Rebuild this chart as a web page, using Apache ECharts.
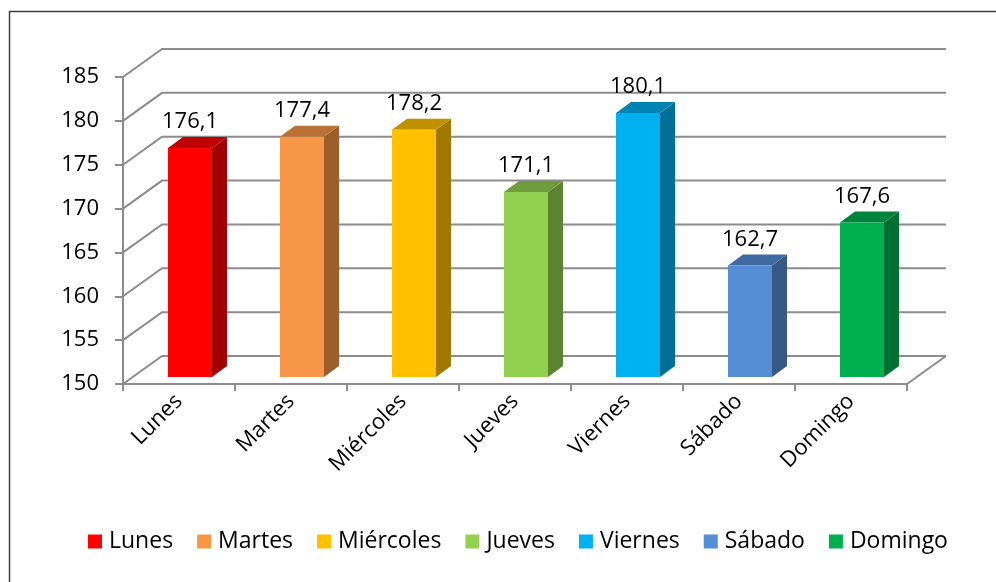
<!DOCTYPE html>
<html>
<head>
<meta charset="utf-8">
<script src="https://cdn.jsdelivr.net/npm/echarts@6/dist/echarts.min.js"></script>
<style>
  html, body { margin: 0; padding: 0; background: #fff; }
  #container { width: 996px; height: 582px; }
</style>
</head>
<body>
<div id="container"></div>
<script>
var dias = ['Lunes', 'Martes', 'Miércoles', 'Jueves', 'Viernes', 'Sábado', 'Domingo'];
var valores = [176.1, 177.4, 178.2, 171.1, 180.1, 162.7, 167.6];
var colores = ['#FF0000', '#F79646', '#FFC000', '#92D050', '#00B0F0', '#558ED5', '#00B050'];
var yTicks = [150, 155, 160, 165, 170, 175, 180, 185];

var FONT = '"Open Sans", "Noto Sans", sans-serif';
var GRIS = '#8c8c8c';
// profundidad de la pared del fondo
var DX = 39, DY = -28;
// cara frontal de la barra y su fondo
var BAR_W = 44, SHIFT_X = 11, SHIFT_Y = -7, DEPTH_X = 15, DEPTH_Y = -11;

var dom = document.getElementById('container');
var myChart = echarts.init(dom);

var fmt = function (v) {
    return v.toFixed(1).replace('.', ',');
};

// oscurecer un color multiplicando sus canales
var oscuro = function (color, f) {
    var c = echarts.color.parse(color);
    return 'rgb(' + Math.round(c[0] * f) + ',' + Math.round(c[1] * f) + ',' + Math.round(c[2] * f) + ')';
};

// paredes: fondo, lateral izquierdo y suelo
var paredes = function (params, api) {
    var cs = params.coordSys;
    var x0 = cs.x, x1 = cs.x + cs.width;
    var kids = [];
    var st = { stroke: GRIS, lineWidth: 2, fill: null };
    for (var i = 0; i < yTicks.length; i++) {
        var y = api.coord([0, yTicks[i]])[1];
        kids.push({ type: 'polyline', shape: { points: [[x0, y], [x0 + DX, y + DY], [x1 + DX, y + DY]] }, style: st });
    }
    var yb = api.coord([0, yTicks[0]])[1];
    kids.push({ type: 'line', shape: { x1: x1, y1: yb, x2: x1 + DX, y2: yb + DY }, style: st });
    return { type: 'group', children: kids };
};

var barra = function (params, api) {
    var c = api.value(0);
    var v = api.value(1);
    var top = api.coord([c, v]);
    var base = api.coord([c, yTicks[0]]);
    var color = api.visual('color');
    var xl = top[0] - BAR_W / 2 + SHIFT_X;
    var xr = xl + BAR_W;
    var yt = top[1] + SHIFT_Y;
    var yb = base[1] + SHIFT_Y;
    return {
        type: 'group',
        children: [
            { type: 'polygon', shape: { points: [[xr, yt], [xr + DEPTH_X, yt + DEPTH_Y], [xr + DEPTH_X, yb + DEPTH_Y], [xr, yb]] },
              style: { fill: oscuro(color, 0.63) } },
            { type: 'polygon', shape: { points: [[xl, yt], [xl + DEPTH_X, yt + DEPTH_Y], [xr + DEPTH_X, yt + DEPTH_Y], [xr, yt]] },
              style: { fill: oscuro(color, 0.75) } },
            { type: 'rect', shape: { x: xl, y: yt, width: BAR_W, height: yb - yt }, style: { fill: color } },
            { type: 'text', x: (xl + xr) / 2, y: yt + DEPTH_Y - 4,
              style: { text: fmt(v), fill: '#000', font: '22px ' + FONT, align: 'center', verticalAlign: 'bottom' } }
        ]
    };
};

var series = [{
    type: 'custom',
    name: '_paredes',
    renderItem: paredes,
    data: [[0, yTicks[0]]],
    silent: true,
    z: 1
}];
for (var i = 0; i < dias.length; i++) {
    series.push({
        type: 'custom',
        name: dias[i],
        renderItem: barra,
        itemStyle: { color: colores[i] },
        data: [[i, valores[i]]],
        z: 5
    });
}

var option = {
    animation: false,
    textStyle: { fontFamily: FONT },
    graphic: [{
        type: 'rect',
        shape: { x: 9.5, y: 11.5, width: 1000, height: 600 },
        style: { fill: null, stroke: '#404040', lineWidth: 1.5 },
        silent: true
    }],
    legend: {
        data: dias,
        bottom: 24,
        left: 83,
        icon: 'rect',
        itemWidth: 14,
        itemHeight: 14,
        itemGap: 24,
        textStyle: { fontSize: 23, color: '#000', fontFamily: FONT, padding: [0, 0, 0, 2] }
    },
    grid: { left: 123, right: 89, top: 77, bottom: 198 },
    xAxis: {
        type: 'category',
        data: dias,
        axisLine: { lineStyle: { color: GRIS, width: 2 } },
        axisTick: { show: true, length: 7, lineStyle: { color: GRIS, width: 2 } },
        axisLabel: { rotate: 45, fontSize: 22, color: '#000', margin: 14, fontFamily: FONT },
        splitLine: { show: false }
    },
    yAxis: {
        type: 'value',
        min: 150,
        max: 185,
        interval: 5,
        axisLine: { show: true, lineStyle: { color: GRIS, width: 2 } },
        axisTick: { show: true, length: 8, lineStyle: { color: GRIS, width: 2 } },
        axisLabel: { fontSize: 22, color: '#000', margin: 24, fontFamily: FONT },
        splitLine: { show: false }
    },
    series: series
};

myChart.setOption(option);
</script>
</body>
</html>
